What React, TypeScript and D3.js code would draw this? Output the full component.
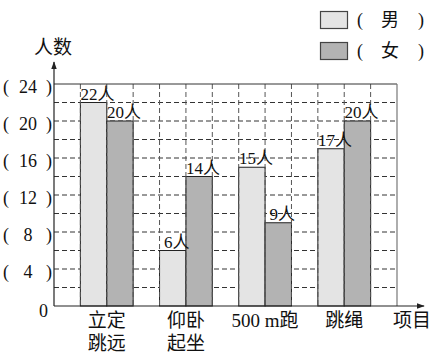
import React from "react";
import * as d3 from "d3";

const categories: string[][] = [["立定", "跳远"], ["仰卧", "起坐"], ["500 m跑"], ["跳绳"]];
const boys: number[] = [22, 6, 15, 17];
const girls: number[] = [20, 14, 9, 20];
const seriesNames: string[] = ["男", "女"];
const yTicks: number[] = [4, 8, 12, 16, 20, 24];

const W = 440, H = 356;
const X0 = 54, X1 = 397, Y0 = 306, YTOP = 84;
const FONT = '"Liberation Serif", "DejaVu Serif", "Noto Sans CJK SC", serif';
const FILLS = ["#e4e4e4", "#b3b3b3"];

export default function App() {
  const keys = categories.map((c) => c.join(""));
  const x = d3.scaleBand<string>().domain(keys).range([X0, X1]).paddingInner(1 / 3).paddingOuter(1 / 3);
  const sub = d3.scaleBand<string>().domain(seriesNames).range([0, x.bandwidth()]);
  const y = d3.scaleLinear().domain([0, 24]).range([Y0, YTOP]);
  const unit = x.step() / 3;
  const vLines = d3.range(1, 13).map((i) => X0 + i * unit);
  const hLines = d3.range(2, 24, 2);
  const series = [boys, girls];

  return (
    <svg width={W} height={H} style={{ position: "absolute", left: 0, top: 0, background: "#fff", fontFamily: FONT }}>
      <defs>
        <marker id="arr" viewBox="0 0 10 10" refX="9" refY="5" markerWidth="8" markerHeight="8" orient="auto" markerUnits="userSpaceOnUse">
          <path d="M0,1.5 L10,5 L0,8.5 Z" fill="#222" />
        </marker>
      </defs>
      {hLines.map((v) => (
        <line key={"h" + v} x1={X0} x2={X1} y1={y(v)} y2={y(v)} stroke="#333" strokeDasharray="5,3" strokeWidth={1} />
      ))}
      {keys.map((k, i) =>
        series.map((s, j) => (
          <rect key={k + j} x={(x(k) ?? 0) + (sub(seriesNames[j]) ?? 0)} y={y(s[i])} width={sub.bandwidth()} height={Y0 - y(s[i])}
            fill={FILLS[j]} stroke="#222" strokeWidth={1} />
        ))
      )}
      {vLines.map((v, i) => (
        <line key={"v" + i} x1={v} x2={v} y1={YTOP} y2={Y0} stroke="#555" strokeDasharray="5,3" strokeWidth={1} />
      ))}
      <line x1={X0} x2={X1} y1={YTOP} y2={YTOP} stroke="#333" strokeWidth={1} />
      <line x1={X1} x2={X1} y1={YTOP} y2={Y0} stroke="#777" strokeWidth={1.2} />
      {keys.map((k, i) =>
        series.map((s, j) => (
          <text key={"t" + k + j} x={(x(k) ?? 0) + (sub(seriesNames[j]) ?? 0) + sub.bandwidth() / 2 + 4} y={y(s[i]) - 3}
            textAnchor="middle" fontSize={17} fill="#111">{s[i] + "人"}</text>
        ))
      )}
      <line x1={X0} x2={X0} y1={Y0} y2={62} stroke="#222" strokeWidth={1.2} markerEnd="url(#arr)" />
      <line x1={X0} x2={424} y1={Y0} y2={Y0} stroke="#222" strokeWidth={1.2} markerEnd="url(#arr)" />
      <text x={53} y={47} textAnchor="middle" dominantBaseline="central" fontSize={19} fill="#111">人数</text>
      <text x={412} y={320} textAnchor="middle" dominantBaseline="central" fontSize={19} fill="#111">项目</text>
      {yTicks.map((t) => (
        <g key={"yt" + t} fontSize={18} fill="#111">
          <text x={3} y={y(t) + 3} dominantBaseline="central">(</text>
          <text x={28} y={y(t) + 3} textAnchor="middle" dominantBaseline="central">{t}</text>
          <text x={52} y={y(t) + 3} textAnchor="end" dominantBaseline="central">)</text>
        </g>
      ))}
      <text x={43.5} y={311} textAnchor="middle" dominantBaseline="central" fontSize={18} fill="#111">0</text>
      {keys.map((k, i) =>
        categories[i].map((line, li) => (
          <text key={"c" + k + li} x={(x(k) ?? 0) + x.bandwidth() / 2} y={320 + li * 23} textAnchor="middle" dominantBaseline="central"
            fontSize={19} fill="#111">{line}</text>
        ))
      )}
      {seriesNames.map((n, j) => (
        <g key={"lg" + n} fontSize={18} fill="#111">
          <rect x={320.5} y={11.5 + j * 31} width={27} height={17} fill={FILLS[j]} stroke="#444" strokeWidth={1.2} />
          <text x={357} y={20 + j * 31} dominantBaseline="central">(</text>
          <text x={390} y={20 + j * 31} textAnchor="middle" dominantBaseline="central">{n}</text>
          <text x={424} y={20 + j * 31} textAnchor="end" dominantBaseline="central">)</text>
        </g>
      ))}
    </svg>
  );
}
